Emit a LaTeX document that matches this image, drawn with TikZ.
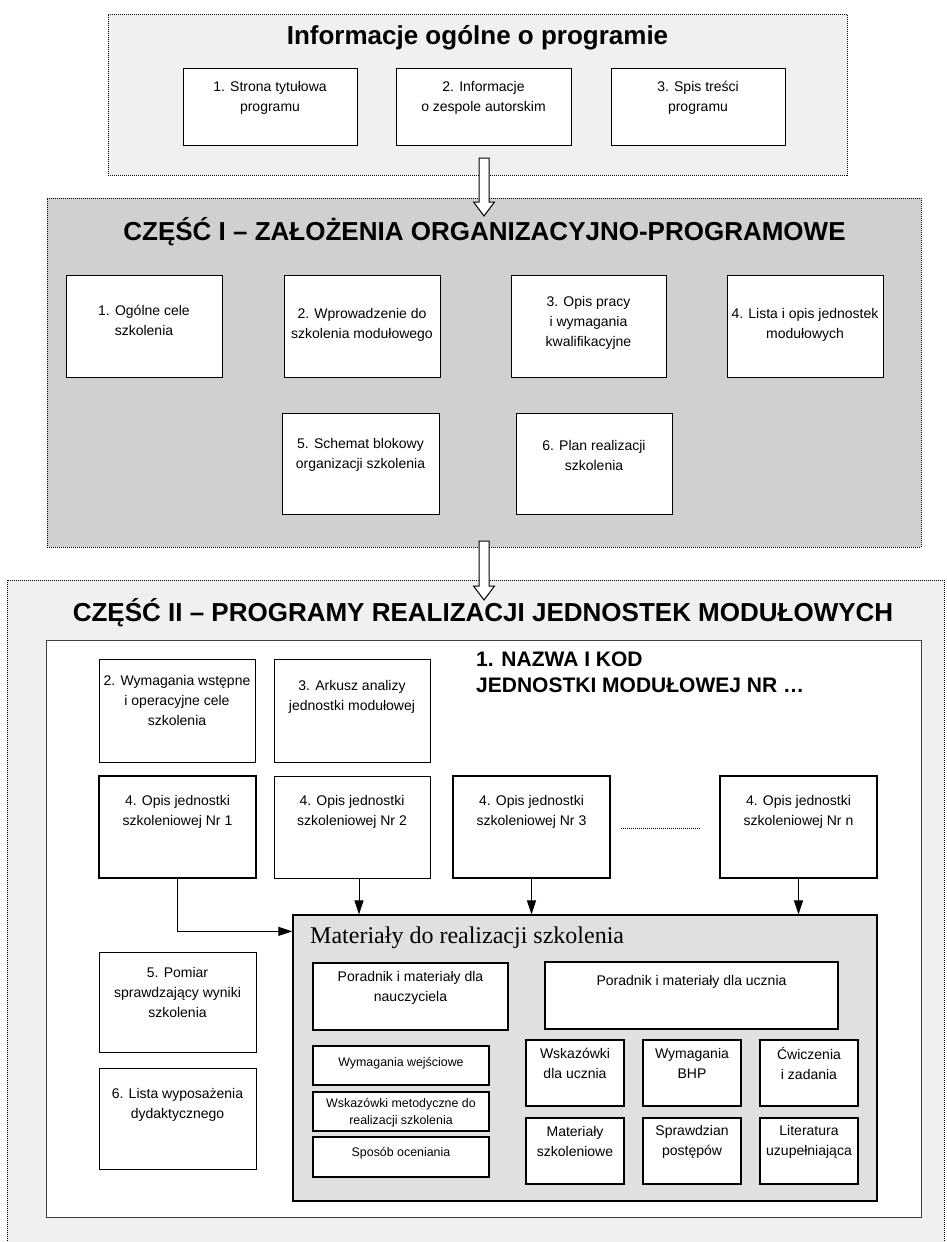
\documentclass[tikz,border=0pt]{standalone}
\usepackage{fontspec}
\setmainfont{Liberation Sans}
\newfontfamily\serifface{Liberation Serif}
\usetikzlibrary{arrows.meta,fit,calc}

\definecolor{panellight}{RGB}{240,240,240}
\definecolor{panelmid}{RGB}{208,208,208}
\definecolor{matgray}{RGB}{224,224,224}

% white block arrow between two named coordinates (top of shaft, tip)
\newcommand\hollowarrow[2]{%
  \draw[hollow] ($(#1)+(-5,0)$) -- ($(#1)+(5,0)$) -- ($(#2)+(5,-14)$)
    -- ($(#2)+(10.5,-14)$) -- (#2) -- ($(#2)+(-10.5,-14)$)
    -- ($(#2)+(-5,-14)$) -- cycle;}

\begin{document}
\begin{tikzpicture}[x=1pt,y=-1pt,
  panel/.style={draw=black, line width=1pt, dash pattern=on 1pt off 1pt, inner sep=0pt},
  box/.style={draw=black, line width=0.9pt, fill=white, inner sep=0pt},
  thickbox/.style={draw=black, line width=2pt, fill=white, inner sep=0pt},
  txt/.style={align=center, inner sep=0pt, font=\fontsize{14}{20}\selectfont},
  smalltxt/.style={align=center, inner sep=0pt, font=\fontsize{12.4}{17}\selectfont},
  headline/.style={inner sep=0pt, font=\bfseries\fontsize{26}{30}\selectfont},
  link/.style={line width=1pt, -{Triangle[length=14pt,width=9pt]}},
  hollow/.style={draw=black, line width=1pt, fill=white, line join=miter},
]
\useasboundingbox (0,0) rectangle (946,1242);
\fill[white] (0,0) rectangle (946,1242);

% ---------- general information ----------
\node[panel, fill=panellight, fit={(108,14) (847,175)}] (head) {};
\node[headline] (headT) at (477.5,38) {Informacje ogólne o programie};
\node[box, fit={(183,68) (357,145)}] (h1) {};
\node[txt] (h1t) at (270,98) {1. Strona tytułowa\\programu};
\node[box, fit={(396,68) (571,145)}] (h2) {};
\node[txt] (h2t) at (483.5,98) {2. Informacje\\o zespole autorskim};
\node[box, fit={(611,68) (785,145)}] (h3) {};
\node[txt] (h3t) at (698,98) {3. Spis treści\\programu};

% ---------- part I ----------
\node[panel, fill=panelmid, fit={(47,198) (921,547)}] (p1) {};
\node[headline] (p1T) at (484.5,232) {CZĘŚĆ I – ZAŁOŻENIA ORGANIZACYJNO-PROGRAMOWE};
\node[box, fit={(66,275) (222,377)}] (b1) {};
\node[txt] (b1t) at (144,320) {1. Ogólne cele\\szkolenia};
\node[box, fit={(284,275) (440,377)}] (b2) {};
\node[txt] (b2t) at (362,325) {2. Wprowadzenie do\\szkolenia modułowego};
\node[box, fit={(511,275) (666,377)}] (b3) {};
\node[txt] (b3t) at (588.5,323) {3. Opis pracy\\i wymagania\\kwalifikacyjne};
\node[box, fit={(727,275) (883,377)}] (b4) {};
\node[txt] (b4t) at (805,325) {4. Lista i opis jednostek\\modułowych};
\node[box, fit={(282,413) (439,514)}] (b5) {};
\node[txt] (b5t) at (360.5,455) {5. Schemat blokowy\\organizacji szkolenia};
\node[box, fit={(516,413) (672,514)}] (b6) {};
\node[txt] (b6t) at (594,455) {6. Plan realizacji\\szkolenia};

\coordinate (a1s) at (484,158);
\coordinate (a1e) at (484,216);
\hollowarrow{a1s}{a1e}

% ---------- part II ----------
\begin{scope}
  \clip (0,0) rectangle (946,1242);
  \node[panel, fill=panellight, fit={(7,580) (944,1262)}] (p2) {};
\end{scope}
\node[headline] (p2T) at (483,613) {CZĘŚĆ II – PROGRAMY REALIZACJI JEDNOSTEK MODUŁOWYCH};

\coordinate (a2s) at (484,541);
\coordinate (a2e) at (484,600);
\hollowarrow{a2s}{a2e}

\node[draw=black!75, line width=1pt, fill=white, inner sep=0pt, fit={(46,640) (921,1217)}] (unit) {};
\node[anchor=west, align=left, inner sep=0pt, font=\bfseries\fontsize{21}{26}\selectfont]
  (unitT) at (476,672) {1. NAZWA I KOD\\JEDNOSTKI MODUŁOWEJ NR …};

\node[box, fit={(99,659) (255,762)}] (u2) {};
\node[txt] (u2t) at (177,700) {2. Wymagania wstępne\\i operacyjne cele\\szkolenia};
\node[box, fit={(274,659) (430,762)}] (u3) {};
\node[txt] (u3t) at (352,697) {3. Arkusz analizy\\jednostki modułowej};

\node[thickbox, fit={(99,776) (256,878)}] (n1) {};
\node[txt] (n1t) at (177.5,812) {4. Opis jednostki\\szkoleniowej Nr 1};
\node[box, fit={(274,776) (430,878)}] (n2) {};
\node[txt] (n2t) at (352,812) {4. Opis jednostki\\szkoleniowej Nr 2};
\node[thickbox, fit={(453,776) (610,878)}] (n3) {};
\node[txt] (n3t) at (531.5,812) {4. Opis jednostki\\szkoleniowej Nr 3};
\node[thickbox, fit={(720,776) (877,878)}] (nn) {};
\node[txt] (nnt) at (798.5,812) {4. Opis jednostki\\szkoleniowej Nr n};
\draw[line width=0.8pt, dash pattern=on 0.8pt off 1.2pt] (621,828) -- (700,828);

\node[box, fit={(99,952) (256,1052)}] (u5) {};
\node[txt] (u5t) at (177.5,992.5) {5. Pomiar\\sprawdzający wyniki\\szkolenia};
\node[box, fit={(99,1068) (256,1169)}] (u6) {};
\node[txt] (u6t) at (177.5,1105) {6. Lista wyposażenia\\dydaktycznego};

% ---------- training materials ----------
\node[draw=black, line width=1.3pt, fill=matgray, inner sep=0pt, fit={(293,915) (877,1201)}] (mat) {};
\node[anchor=west, inner sep=0pt, font=\serifface\fontsize{24}{28}\selectfont]
  (matT) at (310,938) {Materiały do realizacji szkolenia};

\node[thickbox, fit={(313,963) (508,1030)}] (m1) {};
\node[txt] (m1t) at (410.5,987.5) {Poradnik i materiały dla\\nauczyciela};
\node[thickbox, fit={(545,962) (838,1029)}] (m2) {};
\node[txt] (m2t) at (691.5,982) {Poradnik i materiały dla ucznia};
\node[thickbox, fit={(313,1046) (489,1085)}] (m3) {};
\node[smalltxt] (m3t) at (401,1063) {Wymagania wejściowe};
\node[thickbox, fit={(313,1092) (489,1131)}] (m4) {};
\node[smalltxt] (m4t) at (401,1112.5) {Wskazówki metodyczne do\\realizacji szkolenia};
\node[thickbox, fit={(313,1137) (489,1177)}] (m5) {};
\node[smalltxt] (m5t) at (401,1153) {Sposób oceniania};

\node[thickbox, fit={(526,1040) (624,1106)}] (g11) {};
\node[txt] (g11t) at (575,1063) {Wskazówki\\dla ucznia};
\node[thickbox, fit={(643,1040) (741,1106)}] (g12) {};
\node[txt] (g12t) at (692,1063) {Wymagania\\BHP};
\node[thickbox, fit={(760,1040) (858,1106)}] (g13) {};
\node[txt] (g13t) at (809,1063) {Ćwiczenia\\i zadania};
\node[thickbox, fit={(526,1118) (624,1184)}] (g21) {};
\node[txt] (g21t) at (575,1141.5) {Materiały\\szkoleniowe};
\node[thickbox, fit={(643,1118) (741,1184)}] (g22) {};
\node[txt] (g22t) at (692,1141.5) {Sprawdzian\\postępów};
\node[thickbox, fit={(760,1118) (858,1184)}] (g23) {};
\node[txt] (g23t) at (809,1141.5) {Literatura\\uzupełniająca};

% ---------- connectors ----------
\coordinate (n2out) at ([xshift=7pt]n2.south);
\coordinate (matin) at ([yshift=-17pt]mat.north west);
\draw[link] (n1.south) |- (matin);
\draw[link] (n2out) -- (n2out |- mat.north);
\draw[link] (n3.south) -- (n3.south |- mat.north);
\draw[link] (nn.south) -- (nn.south |- mat.north);
\end{tikzpicture}
\end{document}
